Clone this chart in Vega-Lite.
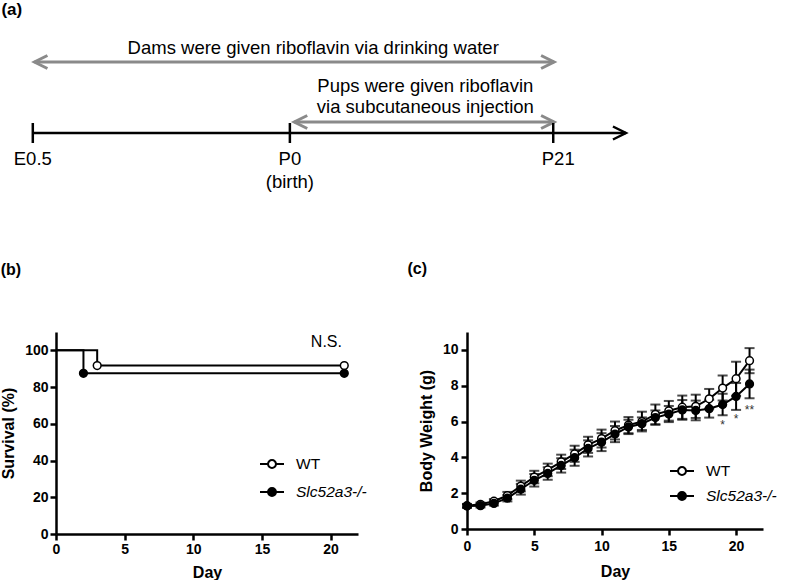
{
  "$schema": "https://vega.github.io/schema/vega-lite/v6.json",
  "padding": 0,
  "background": "white",
  "config": {
    "font": "Liberation Sans",
    "view": {"stroke": null},
    "axis": {
      "domainColor": "black", "domainWidth": 2.5, "tickColor": "black", "tickWidth": 2.5, "tickSize": 6,
      "labelFontSize": 14, "labelFontWeight": "bold", "labelColor": "black", "labelFlush": false,
      "titleFontSize": 16, "titleFontWeight": "bold", "titleColor": "black", "grid": false,
      "labelFont": "Liberation Sans", "titleFont": "Liberation Sans"
    },
    "title": {"font": "Liberation Sans", "fontSize": 16, "fontWeight": "bold", "color": "black", "anchor": "start", "frame": "bounds"},
    "legend": {"labelFont": "Liberation Sans", "labelFontSize": 15, "labelColor": "black"}
  },
  "datasets": {
    "spans": [
      {"name": "Dams", "start": -20.37, "end": 21.07, "level": 7.1},
      {"name": "Pups", "start": 0.35, "end": 21.07, "level": 1.1}
    ],
    "heads": [
      {"day": -20.37, "level": 7.1, "dir": "left"},
      {"day": 21.07, "level": 7.1, "dir": "right"},
      {"day": 0.35, "level": 1.1, "dir": "left"},
      {"day": 21.07, "level": 1.1, "dir": "right"}
    ],
    "timeline": [{"start": -20.5, "end": 26.8, "level": 0}],
    "timehead": [{"day": 26.8, "level": 0}],
    "marks": [
      {"day": -20.5, "level": 0},
      {"day": 0, "level": 0},
      {"day": 21, "level": 0}
    ],
    "alabels": [
      {"day": 1.86, "level": 8.5, "text": "Dams were given riboflavin via drinking water"},
      {"day": 10.8, "level": 4.7, "text": "Pups were given riboflavin"},
      {"day": 10.8, "level": 2.6, "text": "via subcutaneous injection"},
      {"day": -20.5, "level": -2.6, "text": "E0.5"},
      {"day": 0, "level": -2.6, "text": "P0"},
      {"day": 0, "level": -4.9, "text": "(birth)"},
      {"day": 21.4, "level": -2.6, "text": "P21"}
    ],
    "apanel": [{"day": -23.0, "level": 12.3, "text": "(a)"}],
    "km_line": [
      {"group": "WT", "day": 0, "surv": 100},
      {"group": "WT", "day": 3, "surv": 91.7},
      {"group": "WT", "day": 21, "surv": 91.7},
      {"group": "Slc52a3-/-", "day": 0, "surv": 100},
      {"group": "Slc52a3-/-", "day": 2, "surv": 87.5},
      {"group": "Slc52a3-/-", "day": 21, "surv": 87.5}
    ],
    "km_pts": [
      {"group": "WT", "day": 3, "surv": 91.7},
      {"group": "WT", "day": 21, "surv": 91.7},
      {"group": "Slc52a3-/-", "day": 2, "surv": 87.5},
      {"group": "Slc52a3-/-", "day": 21, "surv": 87.5}
    ],
    "ns": [{"day": 19.7, "surv": 104.4, "text": "N.S."}],
    "bw": [
      {"group": "WT", "day": 0, "mean": 1.3, "sd": 0.1},
      {"group": "WT", "day": 1, "mean": 1.38, "sd": 0.1},
      {"group": "WT", "day": 2, "mean": 1.55, "sd": 0.12},
      {"group": "WT", "day": 3, "mean": 1.87, "sd": 0.2},
      {"group": "WT", "day": 4, "mean": 2.4, "sd": 0.3},
      {"group": "WT", "day": 5, "mean": 2.9, "sd": 0.35},
      {"group": "WT", "day": 6, "mean": 3.3, "sd": 0.35},
      {"group": "WT", "day": 7, "mean": 3.75, "sd": 0.4},
      {"group": "WT", "day": 8, "mean": 4.2, "sd": 0.45},
      {"group": "WT", "day": 9, "mean": 4.7, "sd": 0.45},
      {"group": "WT", "day": 10, "mean": 5.05, "sd": 0.5},
      {"group": "WT", "day": 11, "mean": 5.5, "sd": 0.5},
      {"group": "WT", "day": 12, "mean": 5.8, "sd": 0.45},
      {"group": "WT", "day": 13, "mean": 6.0, "sd": 0.55},
      {"group": "WT", "day": 14, "mean": 6.4, "sd": 0.55},
      {"group": "WT", "day": 15, "mean": 6.6, "sd": 0.55},
      {"group": "WT", "day": 16, "mean": 6.8, "sd": 0.65},
      {"group": "WT", "day": 17, "mean": 6.85, "sd": 0.65},
      {"group": "WT", "day": 18, "mean": 7.27, "sd": 0.55},
      {"group": "WT", "day": 19, "mean": 7.87, "sd": 0.7},
      {"group": "WT", "day": 20, "mean": 8.39, "sd": 0.95},
      {"group": "WT", "day": 21, "mean": 9.4, "sd": 0.7},
      {"group": "Slc52a3-/-", "day": 0, "mean": 1.28, "sd": 0.1},
      {"group": "Slc52a3-/-", "day": 1, "mean": 1.3, "sd": 0.1},
      {"group": "Slc52a3-/-", "day": 2, "mean": 1.43, "sd": 0.12},
      {"group": "Slc52a3-/-", "day": 3, "mean": 1.72, "sd": 0.18},
      {"group": "Slc52a3-/-", "day": 4, "mean": 2.22, "sd": 0.3},
      {"group": "Slc52a3-/-", "day": 5, "mean": 2.72, "sd": 0.35},
      {"group": "Slc52a3-/-", "day": 6, "mean": 3.1, "sd": 0.35},
      {"group": "Slc52a3-/-", "day": 7, "mean": 3.55, "sd": 0.4},
      {"group": "Slc52a3-/-", "day": 8, "mean": 3.98, "sd": 0.45},
      {"group": "Slc52a3-/-", "day": 9, "mean": 4.5, "sd": 0.45},
      {"group": "Slc52a3-/-", "day": 10, "mean": 4.85, "sd": 0.5},
      {"group": "Slc52a3-/-", "day": 11, "mean": 5.3, "sd": 0.45},
      {"group": "Slc52a3-/-", "day": 12, "mean": 5.7, "sd": 0.4},
      {"group": "Slc52a3-/-", "day": 13, "mean": 5.88, "sd": 0.35},
      {"group": "Slc52a3-/-", "day": 14, "mean": 6.22, "sd": 0.4},
      {"group": "Slc52a3-/-", "day": 15, "mean": 6.42, "sd": 0.45},
      {"group": "Slc52a3-/-", "day": 16, "mean": 6.65, "sd": 0.55},
      {"group": "Slc52a3-/-", "day": 17, "mean": 6.62, "sd": 0.55},
      {"group": "Slc52a3-/-", "day": 18, "mean": 6.72, "sd": 0.5},
      {"group": "Slc52a3-/-", "day": 19, "mean": 6.95, "sd": 0.6},
      {"group": "Slc52a3-/-", "day": 20, "mean": 7.4, "sd": 0.75},
      {"group": "Slc52a3-/-", "day": 21, "mean": 8.1, "sd": 0.8}
    ],
    "stars": [
      {"day": 19, "value": 5.8, "text": "*"},
      {"day": 20, "value": 6.14, "text": "*"},
      {"day": 21, "value": 6.65, "text": "**"}
    ]
  },
  "spacing": 69,
  "vconcat": [
    {
      "width": 585,
      "height": 190,
      "encoding": {
        "x": {"type": "quantitative", "scale": {"domain": [-18.65, 28], "nice": false, "zero": false}, "axis": null},
        "y": {"type": "quantitative", "scale": {"domain": [-5.9, 13.1], "nice": false, "zero": false}, "axis": null}
      },
      "layer": [
        {
          "data": {"name": "spans"},
          "mark": {"type": "rule", "color": "#8a8a8a", "strokeWidth": 3},
          "encoding": {
            "x": {"field": "start", "type": "quantitative"},
            "x2": {"field": "end"},
            "y": {"field": "level", "type": "quantitative"}
          }
        },
        {
          "data": {"name": "heads"},
          "mark": {"type": "point", "filled": false, "stroke": "#8a8a8a", "strokeWidth": 3, "size": 169, "opacity": 1},
          "encoding": {
            "x": {"field": "day", "type": "quantitative"},
            "y": {"field": "level", "type": "quantitative"},
            "shape": {"field": "dir", "type": "nominal", "scale": {"domain": ["left", "right"], "range": ["M 2 -1 L 0 0 L 2 1", "M -2 -1 L 0 0 L -2 1"]}, "legend": null}
          }
        },
        {
          "data": {"name": "timeline"},
          "mark": {"type": "rule", "color": "black", "strokeWidth": 2.5},
          "encoding": {
            "x": {"field": "start", "type": "quantitative"},
            "x2": {"field": "end"},
            "y": {"field": "level", "type": "quantitative"}
          }
        },
        {
          "data": {"name": "timehead"},
          "mark": {"type": "point", "filled": false, "stroke": "black", "strokeWidth": 2.5, "size": 169, "opacity": 1, "shape": "M -2 -1 L 0 0 L -2 1"},
          "encoding": {
            "x": {"field": "day", "type": "quantitative"},
            "y": {"field": "level", "type": "quantitative"}
          }
        },
        {
          "data": {"name": "marks"},
          "mark": {"type": "point", "filled": false, "stroke": "black", "strokeWidth": 2.5, "size": 400, "opacity": 1, "shape": "M 0 -1 L 0 1"},
          "encoding": {
            "x": {"field": "day", "type": "quantitative"},
            "y": {"field": "level", "type": "quantitative"}
          }
        },
        {
          "data": {"name": "alabels"},
          "mark": {"type": "text", "fontSize": 18.5, "color": "black", "align": "center", "baseline": "middle"},
          "encoding": {
            "x": {"field": "day", "type": "quantitative"},
            "y": {"field": "level", "type": "quantitative"},
            "text": {"field": "text"}
          }
        },
        {
          "data": {"name": "apanel"},
          "mark": {"type": "text", "fontSize": 17, "fontWeight": "bold", "color": "black", "align": "left", "baseline": "middle"},
          "encoding": {
            "x": {"field": "day", "type": "quantitative"},
            "y": {"field": "level", "type": "quantitative"},
            "text": {"field": "text"}
          }
        }
      ]
    },
    {
      "spacing": 40,
      "hconcat": [
        {
          "title": {"text": "(b)", "offset": 54},
          "width": 302,
          "height": 202,
          "encoding": {
            "x": {"type": "quantitative", "scale": {"domain": [0, 22], "nice": false}, "axis": {"title": "Day", "values": [0, 5, 10, 15, 20], "labelPadding": 2, "titlePadding": 8}},
            "y": {"type": "quantitative", "scale": {"domain": [0, 110], "nice": false}, "axis": {"title": "Survival (%)", "values": [0, 20, 40, 60, 80, 100], "labelPadding": 2, "titlePadding": 8}}
          },
          "layer": [
            {
              "data": {"name": "km_line"},
              "mark": {"type": "line", "interpolate": "step-after", "color": "black", "strokeWidth": 2},
              "encoding": {
                "x": {"field": "day", "type": "quantitative"},
                "y": {"field": "surv", "type": "quantitative"},
                "detail": {"field": "group"}
              }
            },
            {
              "data": {"name": "km_pts"},
              "mark": {"type": "point", "shape": "circle", "filled": true, "stroke": "black", "strokeWidth": 1.5, "size": 60, "opacity": 1},
              "encoding": {
                "x": {"field": "day", "type": "quantitative"},
                "y": {"field": "surv", "type": "quantitative"},
                "fill": {
                  "field": "group", "type": "nominal",
                  "scale": {"domain": ["WT", "Slc52a3-/-"], "range": ["white", "black"]},
                  "legend": {
                    "title": null, "orient": "none", "legendX": 203, "legendY": 119, "padding": 0,
                    "symbolType": "M -1 0 L -0.33 0 M 0.33 0 L 1 0 M 0.33 0 A 0.33 0.33 0 1 1 -0.33 0 A 0.33 0.33 0 1 1 0.33 0 Z",
                    "symbolSize": 576, "symbolStrokeColor": "black", "symbolStrokeWidth": 2, "symbolOpacity": 1,
                    "labelOffset": 11, "rowPadding": 6, "labelFontSize": 15.5,
                    "labelFontStyle": {"expr": "datum.label == 'WT' ? 'normal' : 'italic'"}
                  }
                }
              }
            },
            {
              "data": {"name": "ns"},
              "mark": {"type": "text", "fontSize": 16, "color": "black", "align": "center", "baseline": "middle"},
              "encoding": {
                "x": {"field": "day", "type": "quantitative"},
                "y": {"field": "surv", "type": "quantitative"},
                "text": {"field": "text"}
              }
            }
          ]
        },
        {
          "title": {"text": "(c)", "offset": 55, "dx": -11},
          "width": 296,
          "height": 197,
          "data": {"name": "bw"},
          "encoding": {
            "x": {"type": "quantitative", "scale": {"domain": [0, 22], "nice": false}, "axis": {"title": "Day", "values": [0, 5, 10, 15, 20], "labelPadding": 4, "titlePadding": 10}},
            "y": {"type": "quantitative", "scale": {"domain": [0, 11], "nice": false}, "axis": {"title": "Body Weight (g)", "values": [0, 2, 4, 6, 8, 10], "labelPadding": 3, "titlePadding": 8}}
          },
          "layer": [
            {
              "mark": {"type": "line", "color": "black", "strokeWidth": 2},
              "encoding": {
                "x": {"field": "day", "type": "quantitative"},
                "y": {"field": "mean", "type": "quantitative"},
                "detail": {"field": "group"}
              }
            },
            {
              "mark": {"type": "errorbar", "ticks": true, "size": 10, "thickness": 2, "color": "black"},
              "encoding": {
                "x": {"field": "day", "type": "quantitative"},
                "y": {"field": "mean", "type": "quantitative"},
                "yError": {"field": "sd"}
              }
            },
            {
              "mark": {"type": "point", "shape": "circle", "filled": true, "stroke": "black", "strokeWidth": 1.5, "size": 60, "opacity": 1},
              "encoding": {
                "x": {"field": "day", "type": "quantitative"},
                "y": {"field": "mean", "type": "quantitative"},
                "fill": {
                  "field": "group", "type": "nominal",
                  "scale": {"domain": ["WT", "Slc52a3-/-"], "range": ["white", "black"]},
                  "legend": {
                    "title": null, "orient": "none", "legendX": 202, "legendY": 126, "padding": 0,
                    "symbolType": "M -1 0 L -0.33 0 M 0.33 0 L 1 0 M 0.33 0 A 0.33 0.33 0 1 1 -0.33 0 A 0.33 0.33 0 1 1 0.33 0 Z",
                    "symbolSize": 576, "symbolStrokeColor": "black", "symbolStrokeWidth": 2, "symbolOpacity": 1,
                    "labelOffset": 11, "rowPadding": 3, "labelFontSize": 15.5,
                    "labelFontStyle": {"expr": "datum.label == 'WT' ? 'normal' : 'italic'"}
                  }
                }
              }
            },
            {
              "data": {"name": "stars"},
              "mark": {"type": "text", "fontSize": 12, "color": "#333333", "align": "center", "baseline": "middle"},
              "encoding": {
                "x": {"field": "day", "type": "quantitative"},
                "y": {"field": "value", "type": "quantitative"},
                "text": {"field": "text"}
              }
            }
          ],
          "resolve": {"scale": {"fill": "shared"}}
        }
      ],
      "resolve": {"scale": {"fill": "independent"}, "legend": {"fill": "independent"}}
    }
  ]
}
